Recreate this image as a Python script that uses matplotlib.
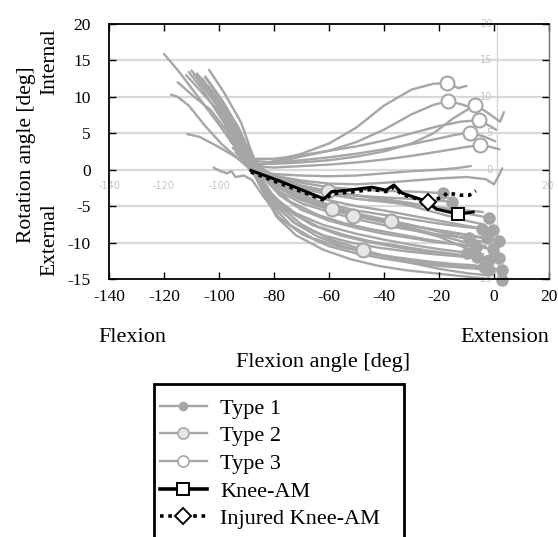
import matplotlib
matplotlib.use("Agg")
import matplotlib.pyplot as plt
from matplotlib.lines import Line2D
from matplotlib.patches import Rectangle

plt.rcParams['font.family'] = ['Liberation Serif', 'DejaVu Serif']

# ---------------- data ----------------
X_TICKS = [-140, -120, -100, -80, -60, -40, -20, 0, 20]
Y_TICKS = [-15, -10, -5, 0, 5, 10, 15, 20]

# Type 3 curves (white circle marker)
TYPE3_X = [
    [-120, -118, -114, -108, -100, -94, -88, -80, -70, -60, -50, -40, -30, -22, -17, -13, -10],
    [-111, -106, -100, -94, -88, -80, -70, -60, -50, -40, -30, -22, -16.7, -12, -9],
    [-108, -102, -96, -90, -86, -80, -70, -60, -50, -40, -30, -22, -15, -6.9, -3, 0, 2.2, 3.6],
    [-105, -99, -93, -88, -80, -70, -60, -50, -40, -30, -20, -12, -5.5, -2, 0.7],
    [-103.6, -98, -92, -87, -80, -70, -60, -50, -40, -30, -20, -14, -8.7, -4, 0.5],
    [-111.6, -107, -101, -95, -89, -80, -70, -60, -50, -40, -30, -20, -12, -5.1, -1, 2],
]
TYPE3_Y = [
    [15.9, 15.0, 13.2, 10.2, 6.2, 3.0, 0.3, 1.2, 2.2, 3.6, 5.8, 8.8, 11.0, 11.8, 11.9, 11.2, 11.5],
    [13.4, 11.0, 7.5, 4.0, 0.5, 1.0, 1.8, 2.6, 3.8, 5.5, 7.6, 8.9, 9.4, 9.0, 8.6],
    [13.2, 10.5, 7.0, 3.4, 0.8, 0.8, 1.0, 1.3, 1.8, 2.5, 3.6, 5.0, 7.0, 8.9, 8.0, 7.2, 6.6, 7.9],
    [12.7, 9.5, 5.8, 1.5, 1.5, 2.0, 2.6, 3.2, 4.0, 5.0, 6.0, 6.6, 6.8, 6.1, 5.5],
    [13.7, 10.5, 6.5, 1.2, 1.0, 1.3, 1.7, 2.2, 2.8, 3.5, 4.3, 4.8, 5.1, 4.6, 3.9],
    [4.9, 4.5, 3.3, 2.0, 0.5, 0.3, 0.5, 0.7, 1.0, 1.4, 1.9, 2.5, 3.0, 3.4, 3.1, 2.8],
]
TYPE3_MX = [-17, -16.7, -6.9, -5.5, -8.7, -5.1]
TYPE3_MY = [11.9, 9.4, 8.9, 6.8, 5.1, 3.4]

# Type 2 curves (light filled circle marker)
TYPE2_X = [
    [-104, -98, -93, -88, -80, -70, -60.4, -50, -40, -30, -20, -10, -4],
    [-107, -100, -94, -88, -80, -70, -58.9, -50, -40, -30, -20, -10, -3],
    [-109, -102, -96, -90, -82, -72, -62, -51.3, -40, -30, -20, -10, -4],
    [-101, -96, -91, -87, -80, -70, -60, -50, -37.5, -30, -20, -10, -2],
    [-96, -92, -88, -84, -78, -70, -60, -47.6, -40, -30, -20, -10, -2],
]
TYPE2_Y = [
    [10.5, 7.5, 4.5, 1.0, -1.0, -2.2, -2.9, -3.5, -4.2, -5.0, -6.0, -7.0, -7.5],
    [12.0, 8.5, 5.0, 0.8, -2.0, -4.0, -5.4, -6.3, -7.2, -8.0, -9.0, -10.0, -10.5],
    [13.0, 9.8, 6.5, 2.0, -1.5, -3.8, -5.2, -6.3, -7.2, -8.2, -9.2, -10.8, -11.6],
    [9.0, 6.0, 3.0, 0.5, -2.0, -3.8, -5.0, -6.0, -7.0, -7.6, -8.5, -9.5, -10.0],
    [4.0, 2.2, 0.3, -2.2, -5.0, -7.5, -9.5, -11.0, -11.8, -12.8, -13.6, -14.2, -14.5],
]
TYPE2_MX = [-60.4, -58.9, -51.3, -37.5, -47.6]
TYPE2_MY = [-2.9, -5.4, -6.3, -7.0, -11.0]

# Type 1 curves (filled grey circle at the end)
TYPE1_X = [
    [-106, -100, -94, -88, -80, -70, -60, -50, -40, -30, -18.5],
    [-110, -104, -98, -92, -87, -80, -70, -60, -50, -40, -30, -22, -15.3],
    [-103, -97, -92, -87, -80, -70, -60, -50, -40, -30, -20, -10, -1.8],
    [-108, -102, -96, -90, -85, -78, -70, -60, -50, -40, -30, -20, -12, -4.4],
    [-112, -106, -100, -94, -88, -80, -70, -60, -50, -40, -30, -20, -10, -0.4],
    [-99, -94, -90, -86, -80, -70, -60, -50, -40, -30, -20, -9.1],
    [-115, -109, -103, -97, -91, -86, -80, -70, -60, -50, -40, -30, -20, -10, -2.5],
    [-104, -98, -92, -87, -80, -70, -60, -50, -40, -30, -20, -10, -2, 1.8],
    [-100, -95, -90, -85, -78, -70, -60, -50, -40, -30, -20, -12, -6.5],
    [-97, -93, -89, -85, -80, -72, -62, -50, -40, -30, -20, -9.8],
    [-105, -99, -93, -88, -82, -74, -64, -54, -44, -34, -24, -14, -6, -0.4],
    [-95, -91, -88, -84, -79, -72, -62, -52, -42, -32, -22, -12, -6.2],
    [-102, -97, -92, -88, -83, -76, -66, -56, -46, -36, -26, -16, -8, -1.8],
    [-98, -94, -90, -86, -81, -74, -64, -54, -44, -34, -24, -14, -6, 1.8],
    [-94, -91, -88, -85, -80, -74, -66, -56, -46, -36, -26, -16, -8, -3.6],
    [-102, -99.5, -97, -95.5, -94, -91, -88, -84, -78, -70, -60, -50, -40, -30, -20, -10, -1.8],
    [-97, -93, -89, -85, -80, -73, -64, -54, -44, -34, -24, -14, -5, 2.9],
    [-93, -90, -87, -83, -79, -72, -62, -52, -42, -32, -22, -12, -4, 2.9],
]
TYPE1_Y = [
    [12.5, 9.0, 5.2, 1.0, -0.8, -1.8, -2.4, -2.7, -2.9, -3.0, -3.2],
    [13.6, 10.8, 7.5, 4.0, 0.6, -1.2, -2.5, -3.2, -3.6, -3.8, -4.0, -4.2, -4.4],
    [11.0, 7.8, 4.5, 0.9, -1.0, -2.2, -3.0, -3.5, -4.0, -4.6, -5.3, -6.0, -6.6],
    [13.0, 10.0, 6.8, 2.8, 0.2, -2.0, -3.5, -4.8, -5.6, -6.2, -6.8, -7.4, -7.8, -8.1],
    [13.0, 10.5, 8.0, 4.5, 0.5, -1.8, -3.2, -4.2, -5.0, -5.6, -6.3, -7.0, -7.7, -8.3],
    [7.0, 4.5, 2.2, -0.2, -2.6, -4.6, -5.8, -6.8, -7.6, -8.3, -8.9, -9.4],
    [12.0, 10.0, 8.2, 5.2, 2.0, -0.4, -2.2, -4.0, -5.3, -6.3, -7.0, -7.7, -8.3, -8.9, -9.4],
    [11.5, 8.5, 4.8, 0.8, -2.2, -4.2, -5.4, -6.3, -7.0, -7.7, -8.4, -9.0, -9.5, -9.8],
    [8.0, 5.4, 2.6, -0.5, -3.5, -5.5, -7.0, -8.0, -8.8, -9.4, -10.0, -10.3, -10.6],
    [5.5, 3.6, 1.5, -1.0, -3.8, -6.0, -7.6, -8.8, -9.6, -10.3, -10.9, -11.4],
    [12.8, 9.6, 5.8, 1.8, -1.8, -4.4, -6.2, -7.4, -8.2, -8.9, -9.6, -10.2, -10.6, -10.9],
    [3.0, 1.6, 0.2, -2.4, -5.2, -7.4, -9.0, -10.0, -10.7, -11.2, -11.6, -11.9, -12.0],
    [9.5, 6.8, 3.5, 0.6, -2.6, -5.4, -7.6, -9.0, -9.9, -10.6, -11.2, -11.7, -12.1, -12.4],
    [6.5, 4.4, 2.2, -0.3, -3.2, -5.8, -7.8, -9.0, -9.9, -10.5, -11.1, -11.6, -11.9, -12.1],
    [2.4, 1.2, 0.0, -2.2, -5.2, -7.6, -9.4, -10.6, -11.4, -12.0, -12.5, -12.9, -13.1, -13.3],
    [0.3, -0.2, -0.5, -0.2, -1.0, -0.8, -1.4, -3.6, -6.6, -8.8, -10.5, -11.5, -12.2, -12.8, -13.2, -13.5, -13.7],
    [5.0, 3.0, 1.0, -1.6, -4.6, -7.2, -9.2, -10.6, -11.6, -12.3, -12.8, -13.2, -13.5, -13.7],
    [1.5, 0.6, -0.8, -3.8, -6.5, -9.0, -11.0, -12.3, -13.2, -13.8, -14.2, -14.6, -14.9, -15.2],
]

# curves without a visible marker
PLAIN_X = [
    [-98, -94, -90, -86, -80, -70, -60, -50, -40, -30, -20, -14, -8.4],
    [-100, -95, -90, -86, -80, -70, -60, -50, -40, -30, -20, -10, -3, 0, 1.5, 3],
    [-117.5, -115, -111, -105, -99, -93, -88, -80, -70, -60, -50, -40, -30, -20, -10, -4],
]
PLAIN_Y = [
    [6.0, 4.0, 2.0, 0.0, -0.6, -0.8, -0.9, -0.8, -0.5, -0.2, 0.0, 0.2, 0.5],
    [8.0, 5.5, 2.8, 0.2, -0.8, -1.5, -1.9, -2.0, -1.8, -1.5, -1.2, -1.0, -1.3, -2.0, -1.0, 0.2],
    [10.3, 10.0, 8.8, 6.0, 3.5, 1.5, -0.2, -1.6, -2.6, -3.4, -4.0, -4.4, -4.8, -5.2, -5.6, -5.8],
]

# Knee-AM and injured Knee-AM
KNEE_X = [-88.4, -79, -61.8, -59, -52.7, -44.4, -39.3, -36.4, -33.5, -24, -21, -13, -7.6]
KNEE_Y = [-0.1, -1.4, -4.0, -3.0, -2.8, -2.4, -2.8, -2.1, -3.2, -4.4, -5.4, -6.1, -5.8]
KNEE_MARK = (-13, -6.1)
INJ_X = [-88.4, -79, -61.8, -59, -52.7, -44.4, -39.3, -36.4, -33.5, -24, -19, -17, -12, -9, -6.6]
INJ_Y = [-0.3, -1.7, -4.2, -3.3, -3.1, -2.7, -3.0, -2.4, -3.4, -4.4, -3.8, -3.2, -3.5, -3.5, -2.9]
INJ_MARK = (-24, -4.4)

LEGEND_LABELS = ["Type 1", "Type 2", "Type 3", "Knee-AM", "Injured Knee-AM"]

# ---------------- drawing ----------------
GREY = '#a6a6a6'
W, H = 558, 537
fig = plt.figure(figsize=(W / 100, H / 100), dpi=100)
ax = fig.add_axes([109 / W, 1 - 279 / H, 440 / W, 255 / H])

ax.set_xlim(-140, 20)
ax.set_ylim(-15, 20)

# grid lines
for yv in [15, 10, 5, 0, -5, -10]:
    ax.axhline(yv, color='#d9d9d9', lw=1.6, zorder=0)
# faint background axis
ax.axvline(1.1, color='#d4d4d4', lw=1.0, zorder=0)
ghost = dict(color='#c4c4c4', fontsize=7, family='DejaVu Sans', zorder=0)
for xv in [-140, -120, -100]:
    ax.text(xv, -1.6, str(xv), ha='center', va='top', **ghost)
ax.text(19.5, -1.6, '20', ha='center', va='top', **ghost)
for yv in [20, 15, 10, 5, 0, -15]:
    ax.text(-0.5, yv, str(yv), ha='right', va='center', **ghost)

lw_g = 1.7
for xs, ys in zip(PLAIN_X, PLAIN_Y):
    ax.plot(xs, ys, color=GREY, lw=lw_g, zorder=1, solid_capstyle='round')
for xs, ys in zip(TYPE3_X, TYPE3_Y):
    ax.plot(xs, ys, color=GREY, lw=lw_g, zorder=1, solid_capstyle='round')
for xs, ys in zip(TYPE2_X, TYPE2_Y):
    ax.plot(xs, ys, color=GREY, lw=lw_g, zorder=1, solid_capstyle='round')
for xs, ys in zip(TYPE1_X, TYPE1_Y):
    ax.plot(xs, ys, color=GREY, lw=lw_g, zorder=1, solid_capstyle='round')

ax.plot([xs[-1] for xs in TYPE1_X], [ys[-1] for ys in TYPE1_Y], ls='none',
        marker='o', ms=8, mfc=GREY, mec=GREY, zorder=2, clip_on=False)
ax.plot(TYPE2_MX, TYPE2_MY, ls='none', marker='o', ms=10, mfc='#e6e6e6',
        mec=GREY, mew=1.5, zorder=2)
ax.plot(TYPE3_MX, TYPE3_MY, ls='none', marker='o', ms=10, mfc='white',
        mec=GREY, mew=1.5, zorder=2)

ax.plot(INJ_X, INJ_Y, color='black', lw=2.6, ls=(0, (1, 1.3)), zorder=4)
ax.plot(KNEE_X, KNEE_Y, color='black', lw=2.2, zorder=5)
ax.plot(*KNEE_MARK, marker='s', ms=9, mfc='white', mec='black', mew=1.4, zorder=6)
ax.plot(*INJ_MARK, marker='D', ms=8.5, mfc='white', mec='black', mew=1.4, zorder=6)

# axes styling
ax.set_xticks(X_TICKS)
ax.set_yticks(Y_TICKS)
ax.set_xticklabels([str(v) for v in X_TICKS])
ax.set_yticklabels([str(v) for v in Y_TICKS])
ax.tick_params(direction='in', top=True, right=True, labelsize=12.5,
               length=5, width=1.0)
ax.tick_params(axis='x', pad=7)
ax.tick_params(axis='y', pad=13)
for s in ['left', 'top', 'bottom']:
    ax.spines[s].set_linewidth(1.3)
    ax.spines[s].set_color('black')
ax.spines['right'].set_color('#707070')
ax.spines['right'].set_linewidth(1.0)

# labels
fs = 16
fig.text(27 / W, 1 - 155 / H, 'Rotation angle [deg]', rotation=90, ha='center',
         va='center', fontsize=15.5)
fig.text(50 / W, 1 - 62 / H, 'Internal', rotation=90, ha='center', va='center', fontsize=15.5)
fig.text(50 / W, 1 - 240 / H, 'External', rotation=90, ha='center', va='center', fontsize=15.5)
fig.text(132 / W, 1 - 337 / H, 'Flexion', ha='center', va='center', fontsize=fs)
fig.text(505 / W, 1 - 337 / H, 'Extension', ha='center', va='center', fontsize=fs)
fig.text(323 / W, 1 - 363 / H, 'Flexion angle [deg]', ha='center', va='center', fontsize=fs)

# legend
handles = [
    Line2D([], [], color=GREY, lw=lw_g, marker='o', ms=6, mfc=GREY, mec=GREY),
    Line2D([], [], color=GREY, lw=lw_g, marker='o', ms=8, mfc='#e6e6e6', mec=GREY, mew=1.2),
    Line2D([], [], color=GREY, lw=lw_g, marker='o', ms=8, mfc='white', mec=GREY, mew=1.2),
    Line2D([], [], color='black', lw=2.6, marker='s', ms=9, mfc='white', mec='black', mew=1.4),
    Line2D([], [], color='black', lw=2.6, ls=(0, (1, 1.3)), marker='D', ms=8.5,
           mfc='white', mec='black', mew=1.4),
]
leg = fig.legend(handles, LEGEND_LABELS, loc='upper left',
                 bbox_to_anchor=(160 / W, 1 - 398 / H), borderaxespad=0,
                 fontsize=fs, frameon=False, handlelength=2.1,
                 handletextpad=0.6, labelspacing=0.32, borderpad=0.0)
fig.patches.append(Rectangle((154 / W, -20 / H), 250 / W, (H - 384 + 20) / H,
                             transform=fig.transFigure, fill=False,
                             edgecolor='black', linewidth=2.0, clip_on=False))

fig.savefig('out.png', dpi=100)
